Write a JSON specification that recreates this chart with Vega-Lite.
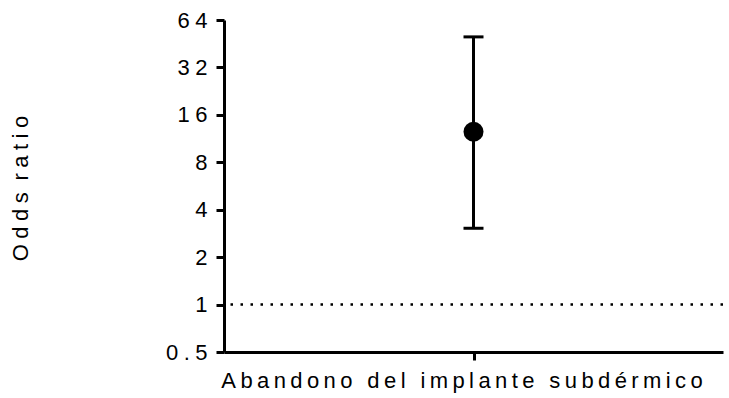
{
  "$schema": "https://vega.github.io/schema/vega-lite/v6.json",
  "width": 499,
  "height": 332,
  "autosize": {"type": "none"},
  "padding": {"left": 224, "top": 20, "right": 6, "bottom": 46},
  "background": "white",
  "config": {
    "view": {"stroke": null},
    "font": "Liberation Sans",
    "axis": {
      "grid": false,
      "domainColor": "black",
      "domainWidth": 3,
      "tickColor": "black",
      "tickWidth": 3,
      "tickSize": 8,
      "labelColor": "black",
      "labelFont": "Liberation Sans",
      "labelFontSize": 22,
      "labelLimit": 0,
      "titleFont": "Liberation Sans",
      "titleFontSize": 22,
      "titleFontWeight": "normal",
      "titleColor": "black"
    }
  },
  "data": {
    "values": [
      {"outcome": "Abandono del implante subdérmico", "or": 12.5, "lo": 3.05, "hi": 50}
    ]
  },
  "layer": [
    {
      "mark": {"type": "rule", "strokeDash": [2.5, 7.5], "strokeWidth": 2.5, "color": "black"},
      "encoding": {"y": {"datum": 1, "type": "quantitative"}}
    },
    {
      "mark": {"type": "rule", "strokeWidth": 3, "color": "black"},
      "encoding": {
        "x": {
          "field": "outcome",
          "type": "nominal",
          "scale": {"type": "point", "padding": 0.5},
          "axis": {
            "title": null,
            "labelAngle": 0,
            "labelPadding": 10,
            "labelOffset": -12,
            "labelExpr": "join(split(datum.label, ''), '\u2009')"
          }
        },
        "y": {
          "field": "lo",
          "type": "quantitative",
          "scale": {"type": "log", "base": 2, "domain": [0.5, 64]},
          "axis": {
            "values": [0.5, 1, 2, 4, 8, 16, 32, 64],
            "title": "O\u2005d\u2005d\u2005s\u2005 r\u2005a\u2005t\u2005i\u2005o",
            "titleAngle": -90,
            "titleX": -204,
            "titleY": 168,
            "titleAlign": "center",
            "titleBaseline": "middle",
            "labelPadding": 9,
            "labelExpr": "join(split(datum.label, ''), '\u2005')"
          }
        },
        "y2": {"field": "hi"}
      }
    },
    {
      "mark": {"type": "tick", "thickness": 3, "size": 20, "color": "black", "opacity": 1, "orient": "horizontal"},
      "encoding": {
        "x": {"field": "outcome", "type": "nominal"},
        "y": {"field": "lo", "type": "quantitative"}
      }
    },
    {
      "mark": {"type": "tick", "thickness": 3, "size": 20, "color": "black", "opacity": 1, "orient": "horizontal"},
      "encoding": {
        "x": {"field": "outcome", "type": "nominal"},
        "y": {"field": "hi", "type": "quantitative"}
      }
    },
    {
      "mark": {"type": "point", "filled": true, "size": 400, "color": "black", "opacity": 1},
      "encoding": {
        "x": {"field": "outcome", "type": "nominal"},
        "y": {"field": "or", "type": "quantitative"}
      }
    }
  ]
}
